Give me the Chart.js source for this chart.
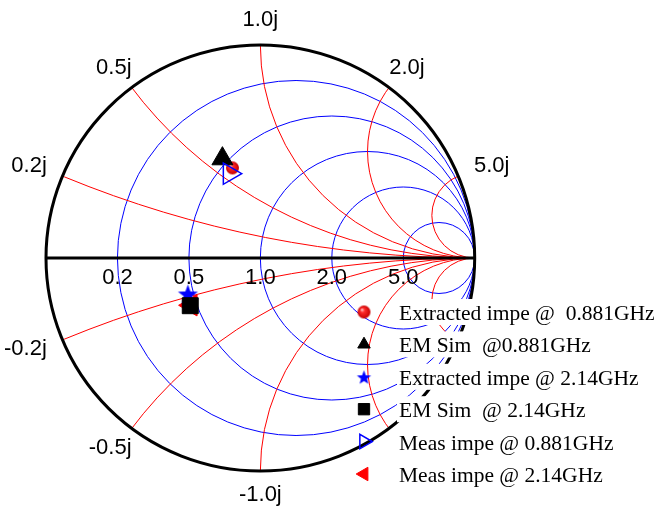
<!DOCTYPE html>
<html>
<head>
<meta charset="utf-8">
<script src="https://cdn.jsdelivr.net/npm/chart.js@4.4.1/dist/chart.umd.min.js"></script>
<style>
  html, body { margin: 0; padding: 0; background: #fff; }
  canvas { display: block; }
</style>
</head>
<body>
<canvas id="smith" width="660" height="508"></canvas>
<script>
// Series names (legend order)
const seriesLabels = [
  'Extracted impe @  0.881GHz',
  'EM Sim  @0.881GHz',
  'Extracted impe @ 2.14GHz',
  'EM Sim  @ 2.14GHz',
  'Meas impe @ 0.881GHz',
  'Meas impe @ 2.14GHz'
];
// Reflection coefficient of each impedance point: real and imaginary parts
const gammaRe = [-0.130, -0.177, -0.338, -0.327, -0.144, -0.324];
const gammaIm = [ 0.423,  0.466, -0.169, -0.224,  0.396, -0.222];

// Smith grid: constant-resistance circles and constant-reactance arcs
const resistanceValues = [0.2, 0.5, 1, 2, 5];
const resistanceLabels = ['0.2', '0.5', '1.0', '2.0', '5.0'];
const reactanceValues = [0.2, 0.5, 1, 2, 5, -0.2, -0.5, -1, -2, -5];
const reactanceLabelValues = [0.2, 0.5, 1, 2, 5, -0.2, -0.5, -1];
const reactanceLabels = ['0.2j', '0.5j', '1.0j', '2.0j', '5.0j', '-0.2j', '-0.5j', '-1.0j'];

// ---- custom marker images ----
function makeSphere(r) {
  const c = document.createElement('canvas');
  const s = Math.ceil(2 * r) + 2;
  c.width = c.height = s;
  const g = c.getContext('2d');
  const m = s / 2;
  const grd = g.createRadialGradient(m - r * 0.35, m - r * 0.4, 0, m, m, r);
  grd.addColorStop(0, '#ffe4e4');
  grd.addColorStop(0.35, '#ff2a2a');
  grd.addColorStop(1, '#c40000');
  g.fillStyle = grd;
  g.beginPath();
  g.arc(m, m, r, 0, Math.PI * 2);
  g.fill();
  return c;
}
function makeStar(r, color) {
  const c = document.createElement('canvas');
  const s = Math.ceil(2 * r) + 2;
  c.width = c.height = s;
  const g = c.getContext('2d');
  const m = s / 2;
  const inner = r * 0.42;
  g.fillStyle = color;
  g.beginPath();
  for (let k = 0; k < 10; k++) {
    const rr = k % 2 === 0 ? r : inner;
    const a = -Math.PI / 2 + k * Math.PI / 5;
    const px = m + rr * Math.cos(a), py = m + 1 + rr * Math.sin(a);
    if (k === 0) g.moveTo(px, py); else g.lineTo(px, py);
  }
  g.closePath();
  g.fill();
  return c;
}

// marker appearance per series
const markerStyles = [
  { plot: { pointStyle: makeSphere(6.5), radius: 7 }, legend: { pointStyle: makeSphere(6.5), radius: 7 },
    fill: '#ff0000', stroke: '#ff0000', order: 5 },
  { plot: { pointStyle: 'triangle', radius: 12.1 }, legend: { pointStyle: 'triangle', radius: 7.2 },
    fill: '#000000', stroke: '#000000', order: 4 },
  { plot: { pointStyle: makeStar(10.5, '#0000ff'), radius: 10 }, legend: { pointStyle: makeStar(7.5, '#0000ff'), radius: 8 },
    fill: '#0000ff', stroke: '#0000ff', order: 3 },
  { plot: { pointStyle: 'rect', radius: 11.3 }, legend: { pointStyle: 'rect', radius: 8 },
    fill: '#000000', stroke: '#000000', order: 2 },
  { plot: { pointStyle: 'triangle', rotation: 90, radius: 12.3 }, legend: { pointStyle: 'triangle', rotation: 90, radius: 8.3 },
    fill: 'rgba(0,0,0,0)', stroke: '#0000ff', width: 1.5, order: 1 },
  { plot: { pointStyle: 'triangle', rotation: -90, radius: 12.3 }, legend: { pointStyle: 'triangle', rotation: -90, radius: 7.8 },
    fill: '#ff0000', stroke: '#ff0000', order: 6 }
];

const datasets = seriesLabels.map((label, i) => {
  const st = markerStyles[i];
  return {
    label,
    data: [{ x: gammaRe[i], y: gammaIm[i] }],
    pointStyle: st.plot.pointStyle,
    pointRotation: st.plot.rotation || 0,
    pointRadius: st.plot.radius,
    pointBackgroundColor: st.fill,
    pointBorderColor: st.stroke,
    pointBorderWidth: st.width || 1,
    showLine: false,
    order: st.order
  };
});

// ---- Smith chart grid, outer circle, axis and labels ----
const smithGrid = {
  id: 'smithGrid',
  beforeDatasetsDraw(chart) {
    const { ctx, scales: { x, y } } = chart;
    const cx = x.getPixelForValue(0), cy = y.getPixelForValue(0);
    const sx = x.getPixelForValue(1) - cx, sy = y.getPixelForValue(1) - cy;
    const addCircle = (u, v, r) => {
      ctx.save();
      ctx.translate(cx, cy);
      ctx.scale(sx, sy);
      ctx.moveTo(u + r, v);
      ctx.arc(u, v, r, 0, Math.PI * 2);
      ctx.restore();
    };

    ctx.save();
    ctx.beginPath();
    addCircle(0, 0, 1);
    ctx.clip();
    ctx.lineWidth = 1;

    // constant resistance
    ctx.strokeStyle = '#0000ff';
    resistanceValues.forEach(r => {
      ctx.beginPath();
      addCircle(r / (1 + r), 0, 1 / (1 + r));
      ctx.stroke();
    });
    // constant reactance
    ctx.strokeStyle = '#ff0000';
    reactanceValues.forEach(xv => {
      ctx.beginPath();
      addCircle(1, 1 / xv, 1 / Math.abs(xv));
      ctx.stroke();
    });
    ctx.restore();

    // outer boundary and real axis
    ctx.save();
    ctx.strokeStyle = '#000';
    ctx.lineWidth = 3;
    ctx.beginPath();
    addCircle(0, 0, 1);
    ctx.stroke();
    ctx.beginPath();
    ctx.moveTo(x.getPixelForValue(-1), cy);
    ctx.lineTo(x.getPixelForValue(1), cy);
    ctx.stroke();
    ctx.restore();

    // labels
    ctx.save();
    ctx.fillStyle = '#000';
    const fs = 22;
    ctx.font = fs + 'px "Liberation Sans", Arial, sans-serif';
    ctx.textBaseline = 'alphabetic';
    ctx.textAlign = 'center';
    resistanceValues.forEach((r, i) => {
      const px = x.getPixelForValue((r - 1) / (r + 1));
      ctx.fillText(resistanceLabels[i], px, cy + 26);
    });

    // reactance labels: box (digit top .. descender) placed radially outside the rim;
    // negative labels mirror the box of the matching positive one
    const ascent = 0.716 * fs, descent = 0.21 * fs;
    const boxH = ascent + descent, gap = 14;
    reactanceLabelValues.forEach((xv, i) => {
      const ax = Math.abs(xv);
      const d = ax * ax + 1;
      const u = (ax * ax - 1) / d, v = 2 * ax / d;
      const px = x.getPixelForValue(u), py = y.getPixelForValue(v);
      const dx = px - cx, dy = py - cy;
      const len = Math.hypot(dx, dy);
      const c = dx / len, s = dy / len;
      const posText = reactanceLabels[reactanceLabelValues.indexOf(ax)];
      const halfW = ctx.measureText(posText).width / 2;
      const halfH = boxH / 2;
      const t = Math.min(Math.abs(c) > 1e-6 ? halfW / Math.abs(c) : Infinity,
                         Math.abs(s) > 1e-6 ? halfH / Math.abs(s) : Infinity);
      const bx = px + c * (gap + t) + 3 * c;
      const by = py + s * (gap + t) + 3 * Math.abs(c);
      let top = by - halfH;
      if (xv < 0) top = 2 * cy - (top + boxH);
      const baseline = top + ascent;
      let tx = bx;
      if (Math.abs(u) < 1e-6) ctx.textAlign = 'center';
      else if (u < 0) { ctx.textAlign = 'right'; tx = bx + halfW; }
      else { ctx.textAlign = 'left'; tx = bx - halfW; }
      ctx.fillText(reactanceLabels[i], tx, baseline);
    });
    ctx.restore();
  }
};

// ---- legend drawn over the lower-right of the chart ----
const drawPoint = Chart.helpers.drawPoint;
const smithLegend = {
  id: 'smithLegend',
  afterDatasetsDraw(chart, args, opts) {
    const { ctx } = chart;
    ctx.save();
    ctx.font = '21.5px "Liberation Serif", "Times New Roman", serif';
    ctx.textBaseline = 'alphabetic';
    ctx.textAlign = 'left';
    chart.data.datasets.forEach((ds, i) => {
      const rowY = opts.top + i * opts.spacing;
      const w = ctx.measureText(ds.label).width;
      ctx.fillStyle = '#fff';
      ctx.fillRect(opts.textX - 2, rowY - 13, w + 4, 26);
      ctx.fillStyle = '#000';
      ctx.fillText(ds.label, opts.textX, rowY + 8);

      const st = markerStyles[i];
      ctx.fillStyle = st.fill;
      ctx.strokeStyle = st.stroke;
      ctx.lineWidth = st.width || 1;
      drawPoint(ctx, {
        pointStyle: st.legend.pointStyle,
        rotation: st.legend.rotation || 0,
        radius: st.legend.radius,
        borderWidth: st.width || 1
      }, opts.markerX, rowY);
    });
    ctx.restore();
  }
};

new Chart(document.getElementById('smith'), {
  type: 'scatter',
  data: { datasets },
  options: {
    responsive: false,
    animation: false,
    devicePixelRatio: 1,
    events: [],
    layout: { padding: { left: 46, right: 185.3, top: 45, bottom: 37 } },
    scales: {
      x: { type: 'linear', min: -1, max: 1, display: false },
      y: { type: 'linear', min: -1, max: 1, display: false }
    },
    plugins: {
      legend: { display: false },
      tooltip: { enabled: false },
      smithLegend: { top: 312, spacing: 32.4, textX: 399, markerX: 364 }
    }
  },
  plugins: [smithGrid, smithLegend]
});
</script>
</body>
</html>
